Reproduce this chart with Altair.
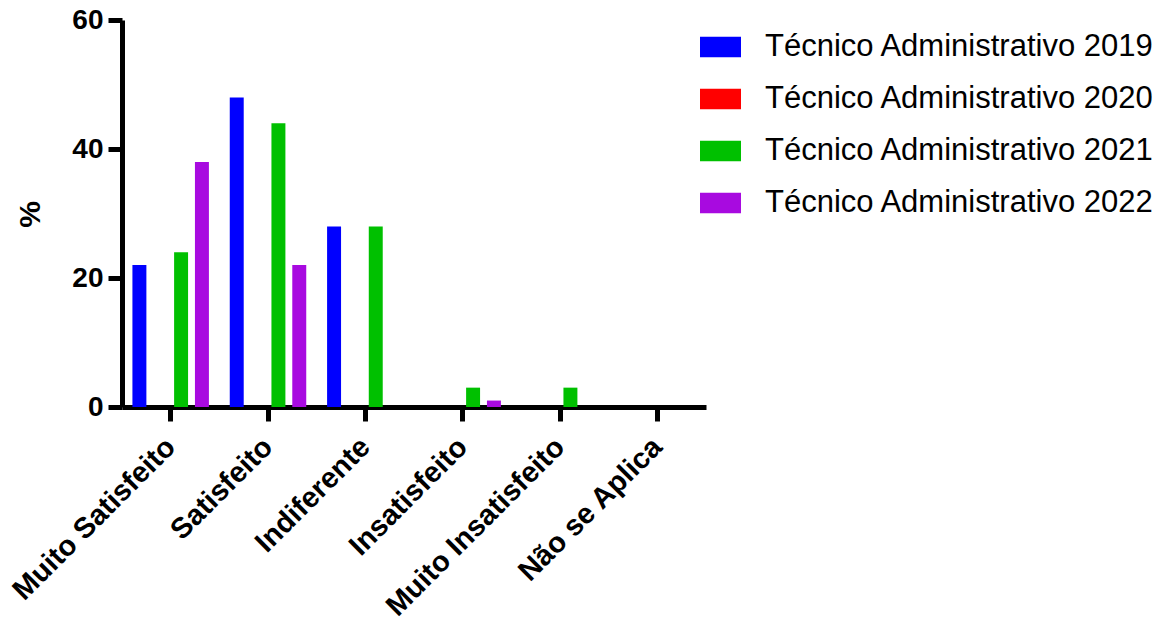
import altair as alt
import pandas as pd

categories = ["Muito Satisfeito", "Satisfeito", "Indiferente", "Insatisfeito", "Muito Insatisfeito", "Não se Aplica"]
series = ["Técnico Administrativo 2019", "Técnico Administrativo 2020", "Técnico Administrativo 2021", "Técnico Administrativo 2022"]
v2019 = [22, 48, 28, 0, 0, 0]
v2020 = [0, 0, 0, 0, 0, 0]
v2021 = [24, 44, 28, 3, 3, 0]
v2022 = [38, 22, 0, 1, 0, 0]
colors = ["#0000FF", "#FF0000", "#00C000", "#A80AE0"]

rows = []
for s, vals in zip(series, [v2019, v2020, v2021, v2022]):
    for c, v in zip(categories, vals):
        rows.append({"cat": c, "serie": s, "val": v})
df = pd.DataFrame(rows)

plot_left, plot_top, W, H = 122, 20, 584, 387
pad_left = plot_left - 8
pad_top = plot_top - 8

chart = alt.Chart(df).mark_bar().encode(
    x=alt.X("cat:N", sort=categories, title=None,
            scale=alt.Scale(paddingInner=0, paddingOuter=0),
            axis=alt.Axis(labelAngle=-45, labelAlign="right", labelBaseline="middle",
                          labelPadding=21, labelFontSize=29, labelLimit=0)),
    xOffset=alt.XOffset("serie:N", sort=series,
                        scale=alt.Scale(paddingInner=0.33, paddingOuter=0.5)),
    y=alt.Y("val:Q", title="%", scale=alt.Scale(domain=[0, 60], nice=False),
            axis=alt.Axis(values=[0, 20, 40, 60], labelPadding=5, labelFontSize=28, labelLimit=0,
                          titleAngle=-90, titleX=-92, titleY=194, titleAlign="center",
                          titleBaseline="middle", titleFontSize=30, titleFontWeight="bold",
                          titleFont="Liberation Sans", titleColor="black")),
    color=alt.Color("serie:N", sort=series, scale=alt.Scale(domain=series, range=colors),
                    legend=alt.Legend(title=None, orient="none",
                                      legendX=700 - plot_left, legendY=26.5 - plot_top,
                                      symbolType="M-1,-0.5H1V0.5H-1Z", symbolSize=1681,
                                      symbolStrokeWidth=0, symbolOpacity=1,
                                      labelFont="Liberation Sans", labelFontSize=31,
                                      labelColor="black", labelOffset=24, rowPadding=16,
                                      labelLimit=0, padding=0)),
).properties(
    width=W, height=H,
    autosize=alt.AutoSizeParams(type="none"),
    padding={"left": pad_left, "top": pad_top, "right": 1156 - pad_left - W, "bottom": 610 - pad_top - H},
).configure_axis(
    grid=False,
    domainColor="black", domainWidth=5,
    tickColor="black", tickWidth=5, tickSize=14,
    labelFont="Liberation Sans", labelFontWeight="bold", labelColor="black", labelLimit=0,
).configure_view(stroke=None)

chart.save("out.html", embed_options={"renderer": "svg", "actions": False})
